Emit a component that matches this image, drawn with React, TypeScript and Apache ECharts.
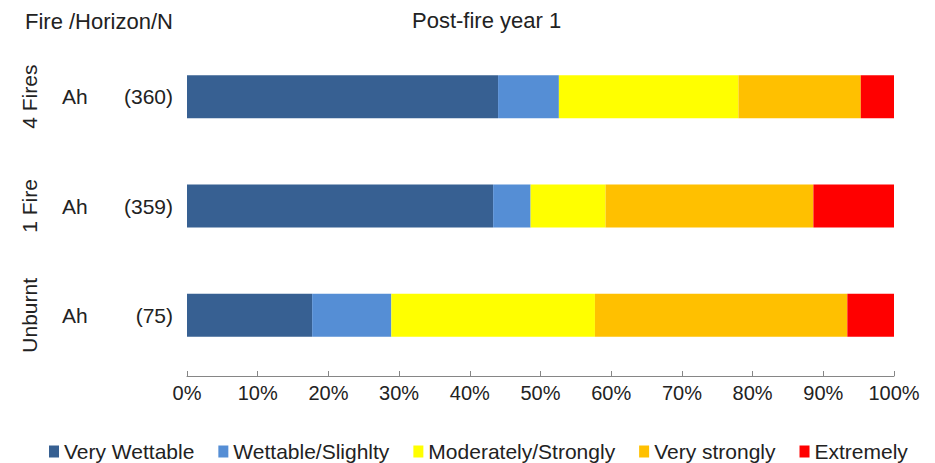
import React, { useEffect, useRef } from "react";
import * as echarts from "echarts";

const fires = ["4 Fires", "1 Fire", "Unburnt"];
const horizons = ["Ah", "Ah", "Ah"];
const counts = [360, 359, 75];
const classNames = ["Very Wettable", "Wettable/Slighlty", "Moderately/Strongly", "Very strongly", "Extremely"];
const classColors = ["#376092", "#558ED5", "#FFFF00", "#FFC000", "#FF0000"];
const veryWettable = [44.0, 43.3, 17.7];
const wettableSlightly = [8.6, 5.3, 11.2];
const moderatelyStrongly = [25.4, 10.6, 28.8];
const veryStrongly = [17.3, 29.4, 35.7];
const extremely = [4.7, 11.4, 6.6];
const seriesValues = [veryWettable, wettableSlightly, moderatelyStrongly, veryStrongly, extremely];
const xTicks = [0, 10, 20, 30, 40, 50, 60, 70, 80, 90, 100];

const FONT = "'Liberation Sans', Arial, sans-serif";

export default function App() {
  const ref = useRef<HTMLDivElement>(null);
  useEffect(() => {
    if (!ref.current) return;
    const chart = echarts.init(ref.current, null, { renderer: "svg" });
    chart.setOption({
      animation: false,
      backgroundColor: "#ffffff",
      textStyle: { fontFamily: FONT },
      title: {
        text: "Post-fire year 1",
        left: 407,
        top: 4,
        textStyle: { fontFamily: FONT, fontSize: 22, fontWeight: "normal", color: "#222" },
      },
      graphic: [
        {
          type: "text",
          left: 25,
          top: 10,
          style: { text: "Fire /Horizon/N", font: `22px ${FONT}`, fill: "#222" },
        },
      ],
      legend: {
        data: classNames,
        left: 44,
        top: 436,
        itemWidth: 10,
        itemHeight: 12,
        itemGap: 24,
        icon: "rect",
        textStyle: { fontFamily: FONT, fontSize: 21, color: "#222" },
      },
      grid: { left: 187, right: 41, top: 42, bottom: 93, containLabel: false },
      xAxis: {
        type: "value",
        min: xTicks[0],
        max: xTicks[xTicks.length - 1],
        interval: 10,
        offset: 6,
        axisLine: { show: true, lineStyle: { color: "#868686" } },
        axisTick: { show: true, inside: true, length: 5, lineStyle: { color: "#868686" } },
        splitLine: { show: false },
        axisLabel: {
          formatter: "{value}%",
          margin: 7,
          fontFamily: FONT,
          fontSize: 20,
          color: "#222",
        },
      },
      yAxis: [
        {
          type: "category",
          data: fires.map((_, i) => i),
          inverse: true,
          axisLine: { show: false },
          axisTick: { show: false },
          axisLabel: {
            margin: 14,
            formatter: (v: string) => {
              const i = Number(v);
              return `{h|${horizons[i]}}{n|(${counts[i]})}`;
            },
            rich: {
              h: { fontFamily: FONT, fontSize: 21, color: "#222", width: 51, align: "left" },
              n: { fontFamily: FONT, fontSize: 21, color: "#222", width: 60, align: "right" },
            },
          },
        },
        {
          type: "category",
          data: fires,
          inverse: true,
          position: "left",
          axisLine: { show: false },
          axisTick: { show: false },
          axisLabel: {
            rotate: 90,
            margin: 147,
            fontFamily: FONT,
            fontSize: 21,
            color: "#222",
          },
        },
      ],
      series: seriesValues.map((vals, k) => ({
        name: classNames[k],
        type: "bar",
        stack: "total",
        barWidth: 43,
        yAxisIndex: 0,
        data: vals,
        itemStyle: { color: classColors[k] },
      })),
    });
    return () => chart.dispose();
  }, []);
  return (
    <div
      ref={ref}
      style={{ position: "fixed", left: 0, top: 0, width: 935, height: 463 }}
    />
  );
}
